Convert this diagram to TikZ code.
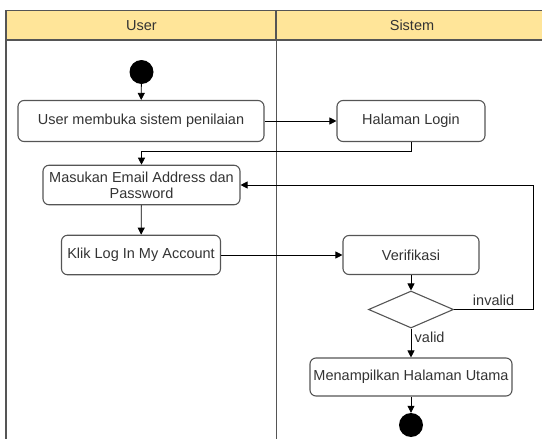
\documentclass[tikz,border=0pt]{standalone}
\usepackage{fontspec}
\setmainfont{Liberation Sans}
\usepackage{tikz}
\usetikzlibrary{positioning,shapes.geometric,arrows.meta}
\definecolor{laneyellow}{HTML}{FFE599}
\definecolor{linegray}{HTML}{555555}
\tikzset{act/.style={draw=linegray,line width=1.1pt,rounded corners=6pt,align=center,inner sep=1pt,text=black!80,
    font=\fontsize{14.5}{16}\selectfont}}
\tikzset{lane/.style={draw=linegray,line width=1.3pt,fill=laneyellow,minimum height=29.3pt,text=black!80,
    font=\fontsize{14.5}{16}\selectfont}}
\begin{document}
\begin{tikzpicture}[x=1pt,y=-1pt,>={Triangle[length=7pt,width=7pt]},
        dot/.style={circle,fill=black,inner sep=0pt}]
        \clip (0,0) rectangle (542,439);
        % swimlanes
        \node (user) at (141.35,25.35) [lane,minimum width=269.3pt] {User};
        \node (sistem) at (412,25.35) [lane,minimum width=272pt] {Sistem};
        \draw[linegray,line width=1.3pt] (user.north west) -- ++(0,440);
        \draw[linegray,line width=1.3pt] (user.north east) -- ++(0,440);
        \draw[linegray,line width=1.3pt] (sistem.north east) -- ++(0,440);
        % activities
        \node (start) at (141.5,72) [dot,minimum size=24pt] {};
        \node (buka) at (141,121) [act,minimum width=246pt,minimum height=41pt] {User membuka sistem penilaian};
        \node (login) at (411,121) [act,minimum width=148pt,minimum height=41pt] {Halaman Login};
        \node (email) at (141.5,185) [act,minimum width=197pt,minimum height=39.5pt] {Masukan Email Address dan\\Password};
        \node (klik) at (141,255) [act,minimum width=159pt,minimum height=39.5pt] {Klik Log In My Account};
        \node (verif) at (411,255) [act,minimum width=136pt,minimum height=39pt] {Verifikasi};
        \node (cek) at (411,309.5) [diamond,draw=linegray,line width=1.1pt,inner sep=0pt,minimum width=85pt,minimum height=37pt,aspect=2.3] {};
        \node (utama) at (411,377) [act,minimum width=202pt,minimum height=38pt] {Menampilkan Halaman Utama};
        \node (stop) at (411,425) [dot,minimum size=24pt] {};
        \coordinate (balik) at (533,309.5);
        % flows
        \draw[thick,->] (start) -- (buka);
        \draw[thick,->] (buka) -- (login);
        \draw[thick,->] (login.south) -- ++(0,9.5) -| (email.north);
        \draw[thick,->] (email) -- (klik);
        \draw[thick,->] (klik) -- (verif);
        \draw[thick,->] (verif) -- (cek);
        \draw[thick,->] (cek.east) -- (balik) node[midway,above,text=black!80,font=\fontsize{14.5}{16}\selectfont] {invalid} |- (email.east);
        \draw[thick,->] (cek.south) -- (utama.north) node[pos=0.3,right,text=black!80,font=\fontsize{14.5}{16}\selectfont] {valid};
        \draw[thick,->] (utama) -- (stop);
    \end{tikzpicture}
\end{document}
